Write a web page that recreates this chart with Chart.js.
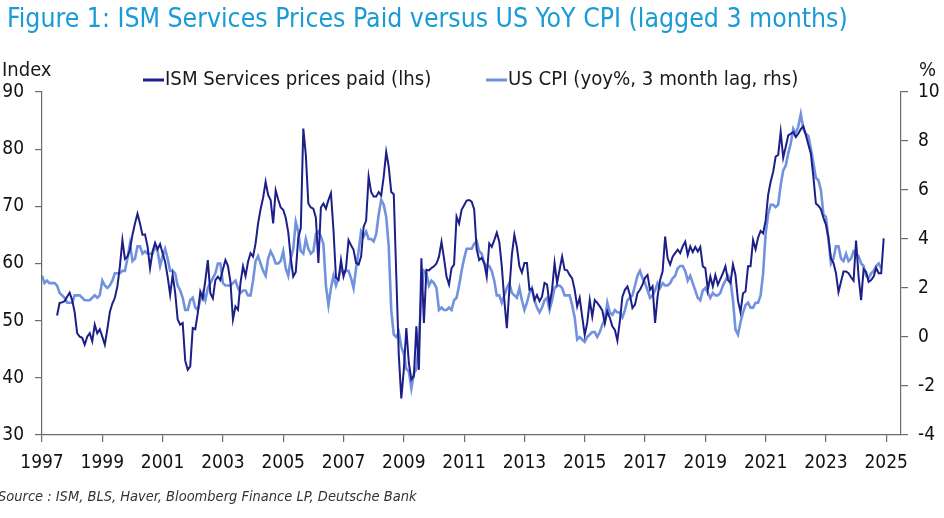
<!DOCTYPE html>
<html>
<head>
<meta charset="utf-8">
<script src="https://cdn.jsdelivr.net/npm/chart.js@4.4.1/dist/chart.umd.min.js"></script>
<style>
  html, body { margin: 0; padding: 0; background: #ffffff; }
  #chart { display: block; }
</style>
</head>
<body>
<canvas id="chart" width="944" height="518"></canvas>
<script>
// ISM Services prices paid index, monthly, first value is Jul 1997
const ismStartMonth = 6; // months after Jan 1997
const ismPricesPaid = [
  50.9, 53.1, 53.2, 53.4, 54.2, 54.9,
  53.6, 51.5, 47.8, 47.2, 47.0, 45.8, 47.2, 47.8, 46.4, 49.3, 47.8, 48.5,
  47.2, 45.8, 48.5, 51.5, 53.0, 54.0, 56.0, 59.5, 64.1, 60.8, 61.2, 62.4,
  65.0, 67.0, 68.7, 67.0, 65.0, 65.1, 63.0, 59.2, 62.1, 63.6, 62.5, 63.4,
  61.8, 60.3, 57.7, 54.5, 58.0, 54.9, 50.2, 49.3, 49.6, 43.0, 41.4, 42.0,
  48.7, 48.5, 51.3, 55.1, 53.9, 57.0, 60.6, 54.8, 53.9, 57.1, 57.7, 57.1,
  59.0, 60.6, 59.6, 56.8, 50.2, 52.5, 51.9, 56.6, 59.5, 57.8, 60.3, 61.8,
  61.2, 63.5, 67.0, 69.5, 71.5, 74.3, 72.0, 71.1, 67.0, 72.8, 71.2, 69.8,
  69.4, 68.0, 65.5, 61.0, 57.7, 58.5, 64.5, 66.2, 83.6, 79.0, 70.5, 69.8,
  69.6, 68.0, 60.1, 69.8, 70.5, 69.6, 71.1, 72.3, 65.9, 57.5, 57.1, 60.6,
  57.7, 59.2, 64.1, 63.2, 62.4, 60.1, 59.8, 61.2, 66.4, 67.5, 75.2, 72.5,
  71.7, 71.7, 72.5, 71.9, 75.2, 79.5, 76.9, 72.5, 72.1, 58.0, 44.0, 36.4,
  41.4, 48.7, 42.6, 39.7, 40.3, 49.0, 41.4, 60.9, 49.6, 58.9, 58.8, 59.2,
  59.5, 60.0, 61.2, 63.8, 60.9, 57.7, 56.3, 59.2, 59.8, 68.2, 67.0, 69.4,
  70.2, 71.0, 71.1, 70.8, 69.5, 62.5, 60.6, 61.0, 60.1, 57.7, 63.5, 62.9,
  64.1, 65.4, 63.8, 59.5, 53.6, 48.7, 55.4, 61.5, 65.0, 62.9, 59.5, 58.4,
  60.1, 60.1, 55.4, 55.6, 53.6, 54.5, 53.4, 54.2, 56.6, 56.3, 52.8, 55.4,
  60.1, 56.6, 58.9, 61.2, 58.9, 58.8, 58.0, 57.4, 55.4, 52.5, 54.0, 50.7,
  47.5, 49.6, 53.6, 50.7, 53.6, 53.1, 52.5, 51.8, 49.5, 51.6, 50.5, 49.0,
  48.4, 46.5, 50.0, 54.2, 55.4, 56.0, 54.5, 52.2, 52.8, 54.8, 55.4, 56.3,
  57.5, 58.0, 55.4, 56.0, 49.6, 54.2, 57.1, 58.6, 64.7, 60.9, 59.8, 61.2,
  61.8, 62.4, 61.8, 63.0, 63.8, 61.5, 63.0, 62.0, 62.9, 62.1, 62.9, 59.5,
  59.2, 55.4, 57.7, 56.0, 58.0, 56.3, 57.3, 58.3, 59.5, 57.1, 56.6, 59.8,
  58.0, 53.5, 51.5, 54.8, 55.1, 59.5, 59.5, 64.1, 62.5, 64.5, 65.7, 65.3,
  67.5, 72.0, 74.3, 76.0, 78.7, 79.0, 83.0, 78.5, 80.4, 82.4, 82.7, 83.0,
  82.1, 82.7, 83.5, 84.0, 82.5, 80.8, 79.2, 75.2, 70.5, 70.1, 69.5, 68.0,
  66.8, 64.5, 60.9, 60.1, 58.3, 55.0, 56.8, 58.6, 58.6, 58.3, 57.6, 57.0,
  64.0, 57.7, 53.6, 59.0, 58.5, 56.8, 57.1, 57.7, 59.2, 58.3, 58.3, 64.4
];

// US CPI yoy %, moved back 3 months: first value (plotted Jan 1997) is Apr 1997 CPI
const cpiStartMonth = 0;
const cpiLagged = [
  2.5, 2.2, 2.3, 2.2, 2.2, 2.2, 2.1, 1.8, 1.7,
  1.6, 1.4, 1.4, 1.4, 1.7, 1.7, 1.7, 1.6, 1.5, 1.5, 1.5, 1.6,
  1.7, 1.6, 1.7, 2.3, 2.1, 2.0, 2.1, 2.3, 2.6, 2.6, 2.6, 2.7,
  2.7, 3.2, 3.8, 3.1, 3.2, 3.7, 3.7, 3.4, 3.5, 3.4, 3.4, 3.4,
  3.7, 3.5, 2.9, 3.3, 3.6, 3.2, 2.7, 2.7, 2.6, 2.1, 1.9, 1.6,
  1.1, 1.1, 1.5, 1.6, 1.2, 1.1, 1.5, 1.8, 1.5, 2.0, 2.2, 2.4,
  2.6, 3.0, 3.0, 2.2, 2.1, 2.1, 2.1, 2.2, 2.3, 2.0, 1.8, 1.9,
  1.9, 1.7, 1.7, 2.3, 3.1, 3.3, 3.0, 2.7, 2.5, 3.2, 3.5, 3.3,
  3.0, 3.0, 3.1, 3.5, 2.8, 2.5, 3.2, 3.6, 4.7, 4.3, 3.5, 3.4,
  4.0, 3.6, 3.4, 3.5, 4.2, 4.3, 4.1, 3.8, 2.1, 1.3, 2.0, 2.5,
  2.1, 2.4, 2.8, 2.6, 2.7, 2.7, 2.4, 2.0, 2.8, 3.5, 4.3, 4.1,
  4.3, 4.0, 4.0, 3.9, 4.2, 5.0, 5.6, 5.4, 4.9, 3.7, 1.1, 0.1,
  0.0, 0.2, -0.4, -0.7, -1.3, -1.4, -2.1, -1.5, -1.3, -0.2, 1.8, 2.7,
  2.6, 2.1, 2.3, 2.2, 2.0, 1.1, 1.2, 1.1, 1.1, 1.2, 1.1, 1.5,
  1.6, 2.1, 2.7, 3.2, 3.6, 3.6, 3.6, 3.8, 3.9, 3.5, 3.4, 3.0,
  2.9, 2.9, 2.7, 2.3, 1.7, 1.7, 1.4, 1.7, 2.0, 2.2, 1.8, 1.7,
  1.6, 2.0, 1.5, 1.1, 1.4, 1.8, 2.0, 1.5, 1.2, 1.0, 1.2, 1.5,
  1.6, 1.1, 1.5, 2.0, 2.1, 2.1, 2.0, 1.7, 1.7, 1.7, 1.3, 0.8,
  -0.1, 0.0, -0.1, -0.2, 0.0, 0.1, 0.2, 0.2, 0.0, 0.2, 0.5, 0.7,
  1.4, 1.0, 0.9, 1.1, 1.0, 1.0, 0.8, 1.1, 1.5, 1.6, 1.7, 2.1,
  2.5, 2.7, 2.4, 2.2, 1.9, 1.6, 1.7, 1.9, 2.2, 2.0, 2.2, 2.1,
  2.1, 2.2, 2.4, 2.5, 2.8, 2.9, 2.9, 2.7, 2.3, 2.5, 2.2, 1.9,
  1.6, 1.5, 1.9, 2.0, 1.8, 1.6, 1.8, 1.7, 1.7, 1.8, 2.1, 2.3,
  2.5, 2.3, 1.5, 0.3, 0.1, 0.6, 1.0, 1.3, 1.4, 1.2, 1.2, 1.4,
  1.4, 1.7, 2.6, 4.2, 5.0, 5.4, 5.4, 5.3, 5.4, 6.2, 6.8, 7.0,
  7.5, 7.9, 8.5, 8.3, 8.6, 9.1, 8.5, 8.3, 8.2, 7.7, 7.1, 6.5,
  6.4, 6.0, 5.0, 4.9, 4.0, 3.0, 3.2, 3.7, 3.7, 3.2, 3.1, 3.4,
  3.1, 3.2, 3.5, 3.4, 3.3, 3.0, 2.9, 2.5, 2.4, 2.6, 2.7, 2.9,
  3.0, 2.8
];

const yearTicks = [1997, 1999, 2001, 2003, 2005, 2007, 2009, 2011, 2013, 2015, 2017, 2019, 2021, 2023, 2025];
const leftTicks = [30, 40, 50, 60, 70, 80, 90];
const rightTicks = [-4, -2, 0, 2, 4, 6, 8, 10];

const ismLabel = 'ISM Services prices paid (lhs)';
const cpiLabel = 'US CPI (yoy%, 3 month lag, rhs)';

const DARK = '#1c1f88';
const LIGHT = '#7192de';
const AXIS = '#6b6b6b';
const NARROW = '"Liberation Sans Narrow", "Arial Narrow", "DejaVu Sans Condensed", sans-serif';

// turn a monthly array into {x: year fraction, y} points
function toPoints(values, startMonth) {
    return values.map((v, i) => ({ x: 1997 + (startMonth + i) / 12, y: v }));
}

// title, legend, unit labels and source drawn around the plot
const decorations = {
    id: 'decorations',
    afterDraw(chart) {
        const ctx = chart.ctx;
        ctx.save();
        ctx.textBaseline = 'middle';

        ctx.fillStyle = '#1a9bd6';
        ctx.font = '26.4px ' + NARROW;
        ctx.textAlign = 'left';
        ctx.fillText('Figure 1: ISM Services Prices Paid versus US YoY CPI (lagged 3 months)', 7, 20);

        ctx.fillStyle = '#1a1a1a';
        ctx.font = '20px ' + NARROW;
        ctx.fillText('Index', 2, 71);
        ctx.textAlign = 'right';
        ctx.fillText('%', 936, 71);

        // legend
        ctx.textAlign = 'left';
        ctx.font = '20.2px ' + NARROW;
        const items = [[ismLabel, DARK, 143], [cpiLabel, LIGHT, 486]];
        items.forEach(([text, color, x]) => {
            ctx.strokeStyle = color;
            ctx.lineWidth = 3;
            ctx.beginPath();
            ctx.moveTo(x, 80);
            ctx.lineTo(x + 21, 80);
            ctx.stroke();
            ctx.fillText(text, x + 22, 80);
        });

        ctx.fillStyle = '#333333';
        ctx.font = 'italic 14.5px ' + NARROW;
        ctx.fillText('Source : ISM, BLS, Haver, Bloomberg Finance LP, Deutsche Bank', -2, 497);
        ctx.restore();
    }
};

const tickFont = { family: NARROW, size: 19 };

new Chart(document.getElementById('chart'), {
    type: 'line',
    data: {
        datasets: [
            {
                label: ismLabel,
                data: toPoints(ismPricesPaid, ismStartMonth),
                borderColor: DARK,
                borderWidth: 2,
                yAxisID: 'yLeft',
                pointRadius: 0,
                tension: 0
            },
            {
                label: cpiLabel,
                data: toPoints(cpiLagged, cpiStartMonth),
                borderColor: LIGHT,
                borderWidth: 2.6,
                yAxisID: 'yRight',
                pointRadius: 0,
                tension: 0
            }
        ]
    },
    options: {
        responsive: false,
        animation: false,
        devicePixelRatio: 1,
        layout: { padding: { top: 92, left: 0, right: 0, bottom: 0 } },
        plugins: {
            legend: { display: false },
            tooltip: { enabled: false },
            title: { display: false }
        },
        scales: {
            x: {
                type: 'linear',
                min: 1997,
                max: 2025.49,
                afterBuildTicks: (scale) => { scale.ticks = yearTicks.map(v => ({ value: v })); },
                afterFit: (scale) => { scale.height = 83; },
                ticks: {
                    color: '#111',
                    font: tickFont,
                    padding: 10,
                    maxRotation: 0,
                    autoSkip: false,
                    callback: (v) => String(v)
                },
                grid: { drawOnChartArea: false, drawTicks: true, tickLength: 7, color: AXIS, lineWidth: 1.2 },
                border: { display: true, color: AXIS, width: 1.2 }
            },
            yLeft: {
                position: 'left',
                min: 30,
                max: 90,
                afterBuildTicks: (scale) => { scale.ticks = leftTicks.map(v => ({ value: v })); },
                afterFit: (scale) => { scale.width = 42; },
                ticks: { color: '#111', font: tickFont, padding: 11 },
                grid: { drawOnChartArea: false, drawTicks: true, tickLength: 7, color: AXIS, lineWidth: 1.2 },
                border: { display: true, color: AXIS, width: 1.2 }
            },
            yRight: {
                position: 'right',
                min: -4,
                max: 10,
                afterBuildTicks: (scale) => { scale.ticks = rightTicks.map(v => ({ value: v })); },
                afterFit: (scale) => { scale.width = 43; },
                ticks: { color: '#111', font: tickFont, padding: 10 },
                grid: { drawOnChartArea: false, drawTicks: true, tickLength: 7, color: AXIS, lineWidth: 1.2 },
                border: { display: true, color: AXIS, width: 1.2 }
            }
        }
    },
    plugins: [decorations]
});
</script>
</body>
</html>
